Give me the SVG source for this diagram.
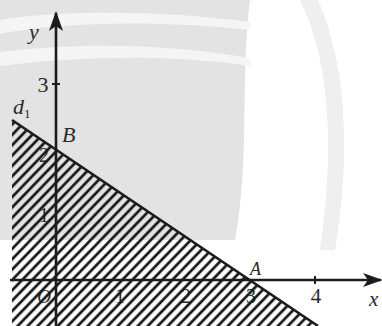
<svg xmlns="http://www.w3.org/2000/svg" width="382" height="326" viewBox="0 0 382 326">
<style>
.ax{stroke:#1c1c1c;stroke-width:2.6;fill:none}
.tk{stroke:#1c1c1c;stroke-width:2}
.lb{font-family:"Liberation Serif","Times New Roman",serif;fill:#2a2a2a}
.it{font-style:italic}
</style>
<defs>
<pattern id="hatch" patternUnits="userSpaceOnUse" width="7.2" height="12" patternTransform="rotate(44)">
<line x1="1.6" y1="0" x2="1.6" y2="12" stroke="#151515" stroke-width="2.7"/>
</pattern>
<marker id="arr" viewBox="0 0 20 14" refX="18" refY="7" markerWidth="20" markerHeight="14" markerUnits="userSpaceOnUse" orient="auto">
<path d="M0,0 L20,7 L0,14 L5,7 Z" fill="#1c1c1c"/>
</marker>
</defs>
<rect width="382" height="326" fill="#ffffff"/>
<g id="watermark" fill="#e3e3e3">
<path d="M0,0 H250 C240,80 250,160 235,240 H0 Z"/>
<path d="M300,0 C330,60 335,150 320,250 L335,250 C352,150 345,60 318,0 Z" fill="#efefef"/>
</g>
<g id="watermark-stripes" fill="#f5f5f5">
<path d="M0,20 C60,10 160,10 250,22 L250,30 C160,20 60,22 0,34 Z"/>
<path d="M0,52 C80,42 170,44 250,58 L250,66 C170,54 80,56 0,66 Z"/>
</g>
<g id="labels-under">
<text class="lb" x="44" y="222" font-size="20" text-anchor="middle">1</text>
<text class="lb" x="44" y="162" font-size="20" text-anchor="middle">2</text>
<text class="lb it" x="44" y="303" font-size="19" text-anchor="middle">O</text>
<text class="lb" x="120" y="303" font-size="20" text-anchor="middle">1</text>
<text class="lb" x="186" y="303" font-size="20" text-anchor="middle">2</text>
<text class="lb" x="251" y="303" font-size="20" text-anchor="middle">3</text>
</g>
<g id="region">
<polygon points="12,120 318,326 12,326" fill="url(#hatch)"/>
</g>
<g id="connectors">
<line id="x-axis" class="ax" x1="10" y1="280" x2="381" y2="280" marker-end="url(#arr)"/>
<line id="y-axis" class="ax" x1="56" y1="326" x2="56" y2="13" marker-end="url(#arr)"/>
<line id="d1" class="ax" x1="12" y1="120" x2="318" y2="326"/>
<line class="tk" x1="52" y1="84" x2="60" y2="84"/>
<line class="tk" x1="315" y1="276" x2="315" y2="284"/>
</g>
<g id="labels">
<text class="lb it" x="29" y="39" font-size="22">y</text>
<text class="lb" x="43" y="92" font-size="22" text-anchor="middle">3</text>
<text class="lb it" x="13" y="114" font-size="22">d<tspan font-size="13" font-style="normal" dy="4">1</tspan></text>
<text class="lb it" x="62" y="142" font-size="22">B</text>
<text class="lb it" x="250" y="275" font-size="18">A</text>
<text class="lb" x="316" y="303" font-size="21" text-anchor="middle">4</text>
<text class="lb it" x="369" y="306" font-size="21">x</text>
</g>
</svg>
